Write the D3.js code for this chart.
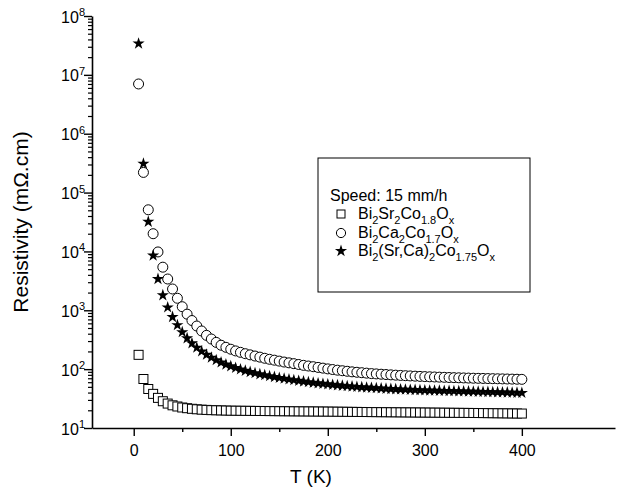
<!DOCTYPE html>
<html>
<head>
<meta charset="utf-8">
<script src="https://cdn.jsdelivr.net/npm/d3@7"></script>
<style>
  body { margin: 0; background: #fff; }
  text { font-family: Arial, "Liberation Sans", sans-serif; fill: #000; }
</style>
</head>
<body>
<svg id="chart"></svg>
<script>
// temperatures (K) of the measured points
const temps = [5, 10, 15, 20, 25, 30, 35, 40, 45, 50, 55, 60, 65, 70, 75, 80, 85, 90, 95, 100,
  105, 110, 115, 120, 125, 130, 135, 140, 145, 150, 155, 160, 165, 170, 175, 180, 185, 190, 195, 200,
  205, 210, 215, 220, 225, 230, 235, 240, 245, 250, 255, 260, 265, 270, 275, 280, 285, 290, 295, 300,
  305, 310, 315, 320, 325, 330, 335, 340, 345, 350, 355, 360, 365, 370, 375, 380, 385, 390, 395, 400];

// resistivity (mOhm.cm)
const rhoSr = [175, 68, 46, 38, 32.5, 28.5, 26, 24.3, 23.2, 22.3, 21.7, 21.2, 20.8, 20.5, 20.3, 20.1, 20.0, 19.9, 19.8, 19.7,
  19.66, 19.62, 19.58, 19.55, 19.5, 19.46, 19.42, 19.38, 19.34, 19.3, 19.27, 19.24, 19.21, 19.18, 19.15, 19.12, 19.09, 19.06, 19.03, 19.0,
  18.96, 18.92, 18.88, 18.84, 18.8, 18.76, 18.72, 18.68, 18.64, 18.6, 18.57, 18.54, 18.51, 18.48, 18.45, 18.42, 18.39, 18.36, 18.33, 18.3,
  18.27, 18.24, 18.21, 18.18, 18.15, 18.12, 18.09, 18.06, 18.03, 18.0, 17.96, 17.92, 17.88, 17.84, 17.8, 17.76, 17.72, 17.68, 17.64, 17.6];

const rhoCa = [7.0e6, 2.2e5, 5.1e4, 2.0e4, 9.8e3, 5.4e3, 3.4e3, 2.3e3, 1.6e3, 1.15e3, 860, 670, 540, 445, 375, 325, 285, 255, 235, 218,
  204, 193, 183, 175, 167, 160, 153, 147, 142, 137, 132, 128, 124, 120, 116, 113, 110, 107, 104, 101,
  98.5, 96, 94, 92, 90, 88.5, 87, 85.5, 84, 83, 82, 81, 80, 79, 78.2, 77.4, 76.7, 76, 75.3, 74.7,
  74.1, 73.6, 73.1, 72.6, 72.1, 71.7, 71.3, 70.9, 70.5, 70.1, 69.8, 69.5, 69.2, 68.9, 68.6, 68.3, 68, 67.7, 67.4, 67.1];

const rhoSrCa = [3.4e7, 3.1e5, 3.2e4, 8.5e3, 3.4e3, 1.8e3, 1.12e3, 770, 560, 425, 335, 275, 232, 200, 176, 157, 142, 130, 120, 112,
  105, 99, 94, 89.5, 85.5, 82, 79, 76, 73.5, 71, 69, 67, 65, 63.3, 61.7, 60.2, 58.8, 57.5, 56.3, 55.2,
  54.2, 53.2, 52.3, 51.5, 50.7, 50, 49.3, 48.7, 48.1, 47.5, 47, 46.5, 46, 45.6, 45.2, 44.8, 44.5, 44.2, 43.9, 43.6,
  43.3, 43.1, 42.9, 42.7, 42.5, 42.3, 42.1, 41.9, 41.7, 41.5, 41.3, 41.1, 40.9, 40.7, 40.5, 40.3, 40.1, 39.9, 39.7, 39.5];

const xTicks = [0, 100, 200, 300, 400];
const xMinorTicks = [50, 150, 250, 350];
const yDecades = [1, 2, 3, 4, 5, 6, 7, 8];

const legendTitle = "Speed: 15 mm/h";
// name pieces: [text, isSubscript]
const seriesNames = [
  [["Bi", 0], ["2", 1], ["Sr", 0], ["2", 1], ["Co", 0], ["1.8", 1], ["O", 0], ["x", 1]],
  [["Bi", 0], ["2", 1], ["Ca", 0], ["2", 1], ["Co", 0], ["1.7", 1], ["O", 0], ["x", 1]],
  [["Bi", 0], ["2", 1], ["(Sr,Ca)", 0], ["2", 1], ["Co", 0], ["1.75", 1], ["O", 0], ["x", 1]]
];

const width = 643, height = 493;
const svg = d3.select("#chart").attr("width", width).attr("height", height);

const x = d3.scaleLinear().domain([-43, 496]).range([92, 615]);
const y = d3.scaleLog().domain([10, 1e8]).range([428, 16]);

// x axis
svg.append("g")
  .attr("transform", `translate(0,${y(10)})`)
  .call(d3.axisBottom(x).tickValues(xMinorTicks).tickSize(4).tickSizeOuter(0).tickFormat(""))
  .call(g => g.select(".domain").remove())
  .call(g => g.selectAll("line").attr("stroke-width", 1.4));

const xAxis = svg.append("g")
  .attr("transform", `translate(0,${y(10)})`)
  .call(d3.axisBottom(x).tickValues(xTicks).tickSize(8).tickSizeOuter(0).tickPadding(9));
xAxis.select(".domain").attr("stroke-width", 1.6);
xAxis.selectAll("line").attr("stroke-width", 1.4);
xAxis.selectAll("text").attr("font-size", 16).attr("font-family", "Arial, 'Liberation Sans', sans-serif");

// y axis
const yMinor = [];
yDecades.slice(0, -1).forEach(d => { for (let k = 2; k <= 9; k++) yMinor.push(k * Math.pow(10, d)); });

svg.append("g")
  .attr("transform", `translate(${x.range()[0]},0)`)
  .call(d3.axisLeft(y).tickValues(yMinor).tickSize(4).tickSizeOuter(0).tickFormat(""))
  .call(g => g.select(".domain").remove())
  .call(g => g.selectAll("line").attr("stroke-width", 1.2));

const yAxis = svg.append("g")
  .attr("transform", `translate(${x.range()[0]},0)`)
  .call(d3.axisLeft(y).tickValues(yDecades.map(d => Math.pow(10, d))).tickSize(8).tickSizeOuter(0).tickFormat(""));
yAxis.select(".domain").attr("stroke-width", 1.6);
yAxis.selectAll("line").attr("stroke-width", 1.4);

yAxis.selectAll(".tick").append("text")
  .attr("x", -7).attr("dy", "0.38em").attr("text-anchor", "end").attr("font-size", 16)
  .each(function(d) {
    const t = d3.select(this);
    t.append("tspan").text("10");
    t.append("tspan").attr("dy", "-0.6em").attr("font-size", 11).text(Math.round(Math.log10(d)));
  });

// axis titles
svg.append("text")
  .attr("transform", `translate(28,222) rotate(-90)`)
  .attr("text-anchor", "middle").attr("font-size", 21)
  .text("Resistivity (m\u03A9.cm)");

svg.append("text")
  .attr("x", 311).attr("y", 483)
  .attr("text-anchor", "middle").attr("font-size", 19)
  .text("T (K)");

// data
const plot = svg.append("g");
const star = d3.symbol().type(d3.symbolStar).size(46);

plot.selectAll("rect.sr").data(temps).join("rect")
  .attr("x", (d) => x(d) - 4.5).attr("y", (d, i) => y(rhoSr[i]) - 4.5)
  .attr("width", 9).attr("height", 9)
  .attr("fill", "#fff").attr("stroke", "#000").attr("stroke-width", 1);

plot.selectAll("circle.ca").data(temps).join("circle")
  .attr("cx", d => x(d)).attr("cy", (d, i) => y(rhoCa[i])).attr("r", 5)
  .attr("fill", "#fff").attr("stroke", "#000").attr("stroke-width", 1);

plot.selectAll("path.srca").data(temps).join("path")
  .attr("d", star)
  .attr("transform", (d, i) => `translate(${x(d)},${y(rhoSrCa[i])})`)
  .attr("fill", "#000");

// legend
const lg = svg.append("g");
lg.append("rect").attr("x", 318).attr("y", 158).attr("width", 212).attr("height", 134)
  .attr("fill", "#fff").attr("stroke", "#000").attr("stroke-width", 1);
lg.append("text").attr("x", 330).attr("y", 201).attr("font-size", 16).text(legendTitle);

const rowY = [219, 238, 256];
seriesNames.forEach((parts, i) => {
  const cy = rowY[i] - 5;
  if (i === 0) lg.append("rect").attr("x", 337).attr("y", cy - 4).attr("width", 8).attr("height", 8)
    .attr("fill", "#fff").attr("stroke", "#000");
  if (i === 1) lg.append("circle").attr("cx", 341).attr("cy", cy).attr("r", 4.6)
    .attr("fill", "#fff").attr("stroke", "#000");
  if (i === 2) lg.append("path").attr("d", star).attr("transform", `translate(341,${cy})`).attr("fill", "#000");
  const t = lg.append("text").attr("x", 358).attr("y", rowY[i]).attr("font-size", 16);
  let low = false;
  parts.forEach(([s, sub]) => {
    const ts = t.append("tspan").text(s);
    if (sub && !low) { ts.attr("dy", 5).attr("font-size", 11); low = true; }
    else if (sub) { ts.attr("font-size", 11); }
    else if (low) { ts.attr("dy", -5); low = false; }
  });
});
</script>
</body>
</html>
